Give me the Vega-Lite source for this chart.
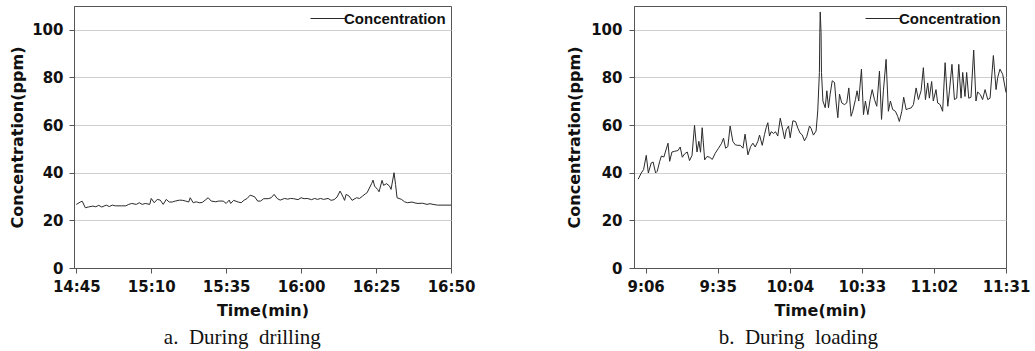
{
  "$schema": "https://vega.github.io/schema/vega-lite/v6.json",
  "background": "white",
  "padding": {"left": 9, "top": 5, "right": 3, "bottom": 2},
  "spacing": 90,
  "config": {
    "view": {"stroke": "#555", "strokeWidth": 1},
    "axis": {
      "labelFont": "DejaVu Sans", "labelFontWeight": "bold", "labelFontSize": 15, "labelColor": "#111",
      "titleFont": "DejaVu Sans", "titleFontWeight": "bold", "titleFontSize": 16, "titleColor": "#111",
      "domainColor": "#555", "tickColor": "#555", "tickSize": 5, "gridColor": "#cfcfcf"
    },
    "axisX": {"grid": false, "labelPadding": 6, "titlePadding": 8, "labelFlush": false},
    "axisY": {"grid": true, "labelPadding": 6, "titlePadding": 6},
    "legend": {
      "orient": "top-right", "offset": 5, "padding": 0, "title": null,
      "labelFont": "Liberation Sans", "labelFontWeight": "bold", "labelFontSize": 15, "labelColor": "#111",
      "symbolType": "M-1,0H10.6", "symbolSize": 36, "symbolStrokeWidth": 1, "labelOffset": 23
    },
    "title": {"font": "Liberation Serif", "fontSize": 21, "fontWeight": "normal", "color": "#111"}
  },
  "resolve": {"scale": {"color": "independent"}, "legend": {"color": "independent"}},
  "hconcat": [
    {
      "width": 377,
      "height": 262,
      "title": {"text": "a.\u00a0\u00a0During\u00a0\u00a0drilling", "orient": "bottom", "anchor": "middle", "frame": "bounds", "offset": 9},
      "data": {
        "format": {"parse": {"time": "date:'%H:%M:%S'"}},
        "values": [
          {"time": "14:45:00", "ppm": 26.7}, {"time": "14:46:30", "ppm": 27.8}, {"time": "14:47:00", "ppm": 28.0},
          {"time": "14:48:00", "ppm": 25.3}, {"time": "14:49:00", "ppm": 25.6}, {"time": "14:50:30", "ppm": 26.0},
          {"time": "14:51:30", "ppm": 25.7}, {"time": "14:52:30", "ppm": 26.3}, {"time": "14:53:30", "ppm": 25.6},
          {"time": "14:55:00", "ppm": 26.4}, {"time": "14:56:00", "ppm": 25.8}, {"time": "14:57:00", "ppm": 26.4},
          {"time": "14:58:00", "ppm": 26.1}, {"time": "15:00:00", "ppm": 26.1}, {"time": "15:01:30", "ppm": 26.1},
          {"time": "15:02:30", "ppm": 26.7}, {"time": "15:03:30", "ppm": 27.1}, {"time": "15:05:00", "ppm": 26.7},
          {"time": "15:06:00", "ppm": 27.4}, {"time": "15:07:00", "ppm": 26.7}, {"time": "15:08:00", "ppm": 27.1},
          {"time": "15:09:30", "ppm": 26.7}, {"time": "15:10:00", "ppm": 29.2}, {"time": "15:11:00", "ppm": 27.4},
          {"time": "15:12:00", "ppm": 28.8}, {"time": "15:13:00", "ppm": 28.5}, {"time": "15:14:00", "ppm": 26.7},
          {"time": "15:15:00", "ppm": 28.8}, {"time": "15:16:00", "ppm": 27.7}, {"time": "15:17:00", "ppm": 27.7},
          {"time": "15:18:00", "ppm": 28.1}, {"time": "15:19:30", "ppm": 28.5}, {"time": "15:20:30", "ppm": 28.4},
          {"time": "15:21:30", "ppm": 28.1}, {"time": "15:22:30", "ppm": 27.7}, {"time": "15:23:00", "ppm": 29.5},
          {"time": "15:24:00", "ppm": 27.4}, {"time": "15:25:00", "ppm": 27.8}, {"time": "15:26:00", "ppm": 27.4},
          {"time": "15:27:00", "ppm": 27.5}, {"time": "15:28:00", "ppm": 28.5}, {"time": "15:29:00", "ppm": 29.5},
          {"time": "15:30:00", "ppm": 28.1}, {"time": "15:31:30", "ppm": 27.8}, {"time": "15:32:30", "ppm": 28.1},
          {"time": "15:34:00", "ppm": 28.1}, {"time": "15:35:00", "ppm": 27.1}, {"time": "15:36:00", "ppm": 28.5},
          {"time": "15:36:30", "ppm": 27.1}, {"time": "15:37:30", "ppm": 28.4}, {"time": "15:39:00", "ppm": 27.7},
          {"time": "15:40:00", "ppm": 27.4}, {"time": "15:41:00", "ppm": 28.5}, {"time": "15:42:00", "ppm": 29.2},
          {"time": "15:43:00", "ppm": 30.6}, {"time": "15:44:30", "ppm": 29.9}, {"time": "15:45:30", "ppm": 28.1},
          {"time": "15:46:30", "ppm": 28.1}, {"time": "15:47:30", "ppm": 29.1}, {"time": "15:49:00", "ppm": 29.1},
          {"time": "15:50:00", "ppm": 29.5}, {"time": "15:51:00", "ppm": 30.9}, {"time": "15:52:00", "ppm": 29.2},
          {"time": "15:53:00", "ppm": 28.5}, {"time": "15:54:30", "ppm": 29.2}, {"time": "15:55:30", "ppm": 28.9},
          {"time": "15:56:30", "ppm": 29.2}, {"time": "15:57:30", "ppm": 29.1}, {"time": "15:59:00", "ppm": 28.7},
          {"time": "16:00:00", "ppm": 29.5}, {"time": "16:01:00", "ppm": 29.1}, {"time": "16:02:00", "ppm": 29.2},
          {"time": "16:03:30", "ppm": 28.7}, {"time": "16:04:30", "ppm": 29.2}, {"time": "16:05:30", "ppm": 28.8},
          {"time": "16:06:30", "ppm": 29.2}, {"time": "16:07:30", "ppm": 28.8}, {"time": "16:09:00", "ppm": 29.2},
          {"time": "16:10:00", "ppm": 28.4}, {"time": "16:11:00", "ppm": 28.7}, {"time": "16:12:00", "ppm": 29.8},
          {"time": "16:13:00", "ppm": 32.3}, {"time": "16:14:00", "ppm": 29.8}, {"time": "16:14:30", "ppm": 28.4},
          {"time": "16:15:00", "ppm": 30.9}, {"time": "16:16:00", "ppm": 30.2}, {"time": "16:17:00", "ppm": 28.4},
          {"time": "16:18:30", "ppm": 29.5}, {"time": "16:19:30", "ppm": 29.2}, {"time": "16:20:30", "ppm": 30.2},
          {"time": "16:21:30", "ppm": 31.2}, {"time": "16:22:00", "ppm": 31.6}, {"time": "16:23:30", "ppm": 35.4},
          {"time": "16:24:00", "ppm": 36.9}, {"time": "16:24:30", "ppm": 34.4}, {"time": "16:25:30", "ppm": 33.0},
          {"time": "16:26:00", "ppm": 32.0}, {"time": "16:27:00", "ppm": 36.8}, {"time": "16:27:30", "ppm": 34.7},
          {"time": "16:28:30", "ppm": 35.4}, {"time": "16:29:30", "ppm": 34.4}, {"time": "16:30:00", "ppm": 33.0},
          {"time": "16:31:00", "ppm": 40.0}, {"time": "16:31:30", "ppm": 35.1}, {"time": "16:32:00", "ppm": 29.5},
          {"time": "16:33:30", "ppm": 28.8}, {"time": "16:34:30", "ppm": 27.8}, {"time": "16:35:30", "ppm": 27.4},
          {"time": "16:37:00", "ppm": 27.7}, {"time": "16:38:00", "ppm": 27.3}, {"time": "16:39:00", "ppm": 27.1},
          {"time": "16:40:30", "ppm": 27.2}, {"time": "16:42:00", "ppm": 26.7}, {"time": "16:43:00", "ppm": 27.0},
          {"time": "16:44:00", "ppm": 26.7}, {"time": "16:45:30", "ppm": 26.4}, {"time": "16:50:00", "ppm": 26.4}
        ]
      },
      "mark": {"type": "line", "strokeWidth": 1},
      "encoding": {
        "x": {
          "field": "time", "type": "temporal",
          "scale": {"nice": false, "domain": [
            {"year": 1900, "month": 1, "date": 1, "hours": 14, "minutes": 44, "seconds": 14},
            {"year": 1900, "month": 1, "date": 1, "hours": 16, "minutes": 50}
          ]},
          "axis": {
            "title": "Time(min)", "format": "%-H:%M",
            "values": [
              {"year": 1900, "month": 1, "date": 1, "hours": 14, "minutes": 45},
              {"year": 1900, "month": 1, "date": 1, "hours": 15, "minutes": 10},
              {"year": 1900, "month": 1, "date": 1, "hours": 15, "minutes": 35},
              {"year": 1900, "month": 1, "date": 1, "hours": 16, "minutes": 0},
              {"year": 1900, "month": 1, "date": 1, "hours": 16, "minutes": 25},
              {"year": 1900, "month": 1, "date": 1, "hours": 16, "minutes": 50}
            ]
          }
        },
        "y": {
          "field": "ppm", "type": "quantitative",
          "scale": {"domain": [0, 110], "nice": false},
          "axis": {"title": "Concentration(ppm)", "values": [0, 20, 40, 60, 80, 100]}
        },
        "color": {"datum": "Concentration", "scale": {"range": ["#2a2a2a"]}}
      }
    },
    {
      "width": 372,
      "height": 262,
      "title": {"text": "b.\u00a0\u00a0During\u00a0\u00a0loading", "orient": "bottom", "anchor": "middle", "frame": "bounds", "offset": 9},
      "data": {
        "format": {"parse": {"time": "date:'%H:%M:%S'"}},
        "values": [
          {"time": "09:03:00", "ppm": 37.3}, {"time": "09:04:15", "ppm": 39.9}, {"time": "09:05:10", "ppm": 41.3},
          {"time": "09:06:15", "ppm": 47.3}, {"time": "09:07:05", "ppm": 39.9}, {"time": "09:08:15", "ppm": 44.1},
          {"time": "09:09:00", "ppm": 44.5}, {"time": "09:10:00", "ppm": 39.9}, {"time": "09:10:40", "ppm": 40.6},
          {"time": "09:11:40", "ppm": 44.8}, {"time": "09:12:20", "ppm": 47.0}, {"time": "09:13:20", "ppm": 46.6},
          {"time": "09:15:00", "ppm": 52.4}, {"time": "09:15:40", "ppm": 44.8}, {"time": "09:16:35", "ppm": 48.7},
          {"time": "09:17:40", "ppm": 49.0}, {"time": "09:19:00", "ppm": 49.3}, {"time": "09:19:55", "ppm": 50.8},
          {"time": "09:20:45", "ppm": 46.5}, {"time": "09:21:40", "ppm": 47.9}, {"time": "09:22:45", "ppm": 48.7},
          {"time": "09:23:40", "ppm": 45.1}, {"time": "09:24:40", "ppm": 47.3}, {"time": "09:25:40", "ppm": 59.9},
          {"time": "09:26:40", "ppm": 48.7}, {"time": "09:27:25", "ppm": 53.2}, {"time": "09:28:05", "ppm": 48.6},
          {"time": "09:28:45", "ppm": 58.9}, {"time": "09:29:45", "ppm": 45.4}, {"time": "09:30:40", "ppm": 46.8},
          {"time": "09:31:45", "ppm": 46.5}, {"time": "09:32:50", "ppm": 45.6}, {"time": "09:34:00", "ppm": 48.2},
          {"time": "09:35:20", "ppm": 50.3}, {"time": "09:36:35", "ppm": 52.4}, {"time": "09:37:20", "ppm": 54.5},
          {"time": "09:38:10", "ppm": 50.3}, {"time": "09:39:05", "ppm": 51.0}, {"time": "09:40:00", "ppm": 59.6},
          {"time": "09:41:05", "ppm": 53.2}, {"time": "09:42:05", "ppm": 51.7}, {"time": "09:43:05", "ppm": 51.5},
          {"time": "09:44:05", "ppm": 51.5}, {"time": "09:45:10", "ppm": 50.3}, {"time": "09:46:00", "ppm": 56.2},
          {"time": "09:47:10", "ppm": 47.5}, {"time": "09:48:15", "ppm": 51.0}, {"time": "09:49:10", "ppm": 52.4},
          {"time": "09:50:05", "ppm": 50.8}, {"time": "09:51:10", "ppm": 53.2}, {"time": "09:51:50", "ppm": 55.8},
          {"time": "09:52:55", "ppm": 51.5}, {"time": "09:53:50", "ppm": 56.1}, {"time": "09:54:30", "ppm": 58.9},
          {"time": "09:55:10", "ppm": 61.0}, {"time": "09:55:50", "ppm": 55.4}, {"time": "09:56:30", "ppm": 57.2},
          {"time": "09:57:30", "ppm": 56.5}, {"time": "09:58:15", "ppm": 57.2}, {"time": "09:59:10", "ppm": 55.4},
          {"time": "10:00:10", "ppm": 62.9}, {"time": "10:01:15", "ppm": 57.6}, {"time": "10:01:55", "ppm": 54.2},
          {"time": "10:02:35", "ppm": 58.0}, {"time": "10:03:30", "ppm": 59.6}, {"time": "10:04:10", "ppm": 54.7},
          {"time": "10:05:15", "ppm": 61.8}, {"time": "10:06:20", "ppm": 61.5}, {"time": "10:07:15", "ppm": 58.7},
          {"time": "10:08:10", "ppm": 56.6}, {"time": "10:09:00", "ppm": 55.9}, {"time": "10:09:55", "ppm": 53.4},
          {"time": "10:10:50", "ppm": 55.2}, {"time": "10:11:55", "ppm": 59.6}, {"time": "10:12:35", "ppm": 58.6},
          {"time": "10:13:30", "ppm": 55.8}, {"time": "10:14:35", "ppm": 57.5}, {"time": "10:15:15", "ppm": 65.9},
          {"time": "10:15:55", "ppm": 82.1}, {"time": "10:16:05", "ppm": 99.0}, {"time": "10:16:15", "ppm": 107.5},
          {"time": "10:16:35", "ppm": 99.0}, {"time": "10:16:45", "ppm": 82.1}, {"time": "10:17:20", "ppm": 70.1},
          {"time": "10:18:15", "ppm": 67.3}, {"time": "10:18:55", "ppm": 74.4}, {"time": "10:19:35", "ppm": 67.3},
          {"time": "10:20:15", "ppm": 73.0}, {"time": "10:21:05", "ppm": 78.6}, {"time": "10:22:00", "ppm": 77.9},
          {"time": "10:22:40", "ppm": 69.3}, {"time": "10:23:20", "ppm": 63.1}, {"time": "10:24:00", "ppm": 73.0},
          {"time": "10:24:55", "ppm": 69.3}, {"time": "10:26:00", "ppm": 68.6}, {"time": "10:26:55", "ppm": 69.3},
          {"time": "10:27:45", "ppm": 75.6}, {"time": "10:28:40", "ppm": 63.7}, {"time": "10:29:20", "ppm": 65.8},
          {"time": "10:30:25", "ppm": 70.7}, {"time": "10:31:05", "ppm": 74.4}, {"time": "10:31:45", "ppm": 70.1},
          {"time": "10:32:50", "ppm": 83.5}, {"time": "10:33:40", "ppm": 64.4}, {"time": "10:34:25", "ppm": 70.1},
          {"time": "10:35:25", "ppm": 64.4}, {"time": "10:36:20", "ppm": 70.7}, {"time": "10:37:10", "ppm": 74.9},
          {"time": "10:38:05", "ppm": 70.7}, {"time": "10:39:00", "ppm": 67.9}, {"time": "10:40:05", "ppm": 82.7},
          {"time": "10:40:55", "ppm": 62.4}, {"time": "10:41:40", "ppm": 74.4}, {"time": "10:42:45", "ppm": 87.6},
          {"time": "10:43:40", "ppm": 65.8}, {"time": "10:44:30", "ppm": 70.1}, {"time": "10:45:25", "ppm": 66.5},
          {"time": "10:46:30", "ppm": 65.8}, {"time": "10:47:25", "ppm": 63.7}, {"time": "10:48:05", "ppm": 61.5},
          {"time": "10:49:05", "ppm": 65.8}, {"time": "10:49:50", "ppm": 71.7}, {"time": "10:50:50", "ppm": 66.5},
          {"time": "10:51:45", "ppm": 66.9}, {"time": "10:52:50", "ppm": 67.2}, {"time": "10:53:45", "ppm": 68.6},
          {"time": "10:54:50", "ppm": 75.6}, {"time": "10:55:45", "ppm": 70.7}, {"time": "10:56:50", "ppm": 74.4},
          {"time": "10:57:45", "ppm": 84.1}, {"time": "10:58:35", "ppm": 70.7}, {"time": "10:59:30", "ppm": 77.7},
          {"time": "11:00:10", "ppm": 71.3}, {"time": "11:01:05", "ppm": 78.3}, {"time": "11:01:45", "ppm": 70.1},
          {"time": "11:02:50", "ppm": 74.9}, {"time": "11:03:30", "ppm": 69.3}, {"time": "11:04:30", "ppm": 68.6},
          {"time": "11:05:30", "ppm": 65.8}, {"time": "11:06:30", "ppm": 86.2}, {"time": "11:07:35", "ppm": 67.9},
          {"time": "11:08:15", "ppm": 74.4}, {"time": "11:09:15", "ppm": 85.5}, {"time": "11:10:15", "ppm": 70.7},
          {"time": "11:11:10", "ppm": 71.3}, {"time": "11:12:00", "ppm": 85.5}, {"time": "11:12:55", "ppm": 71.3},
          {"time": "11:13:35", "ppm": 82.1}, {"time": "11:14:30", "ppm": 72.0}, {"time": "11:15:10", "ppm": 82.1},
          {"time": "11:16:00", "ppm": 71.3}, {"time": "11:16:55", "ppm": 71.7}, {"time": "11:18:00", "ppm": 91.5},
          {"time": "11:18:55", "ppm": 70.1}, {"time": "11:19:35", "ppm": 73.9}, {"time": "11:20:40", "ppm": 72.8},
          {"time": "11:21:35", "ppm": 70.7}, {"time": "11:22:35", "ppm": 74.9}, {"time": "11:23:40", "ppm": 70.7},
          {"time": "11:24:35", "ppm": 71.3}, {"time": "11:25:55", "ppm": 89.2}, {"time": "11:27:00", "ppm": 74.9},
          {"time": "11:27:40", "ppm": 80.0}, {"time": "11:28:35", "ppm": 83.5}, {"time": "11:29:40", "ppm": 81.3},
          {"time": "11:31:00", "ppm": 73.7}
        ]
      },
      "mark": {"type": "line", "strokeWidth": 1},
      "encoding": {
        "x": {
          "field": "time", "type": "temporal",
          "scale": {"nice": false, "domain": [
            {"year": 1900, "month": 1, "date": 1, "hours": 9, "minutes": 1, "seconds": 19},
            {"year": 1900, "month": 1, "date": 1, "hours": 11, "minutes": 31}
          ]},
          "axis": {
            "title": "Time(min)", "format": "%-H:%M",
            "values": [
              {"year": 1900, "month": 1, "date": 1, "hours": 9, "minutes": 6},
              {"year": 1900, "month": 1, "date": 1, "hours": 9, "minutes": 35},
              {"year": 1900, "month": 1, "date": 1, "hours": 10, "minutes": 4},
              {"year": 1900, "month": 1, "date": 1, "hours": 10, "minutes": 33},
              {"year": 1900, "month": 1, "date": 1, "hours": 11, "minutes": 2},
              {"year": 1900, "month": 1, "date": 1, "hours": 11, "minutes": 31}
            ]
          }
        },
        "y": {
          "field": "ppm", "type": "quantitative",
          "scale": {"domain": [0, 110], "nice": false},
          "axis": {"title": "Concentration(ppm)", "values": [0, 20, 40, 60, 80, 100], "labelPadding": 7, "titlePadding": 8}
        },
        "color": {"datum": "Concentration", "scale": {"range": ["#2a2a2a"]}}
      }
    }
  ]
}
